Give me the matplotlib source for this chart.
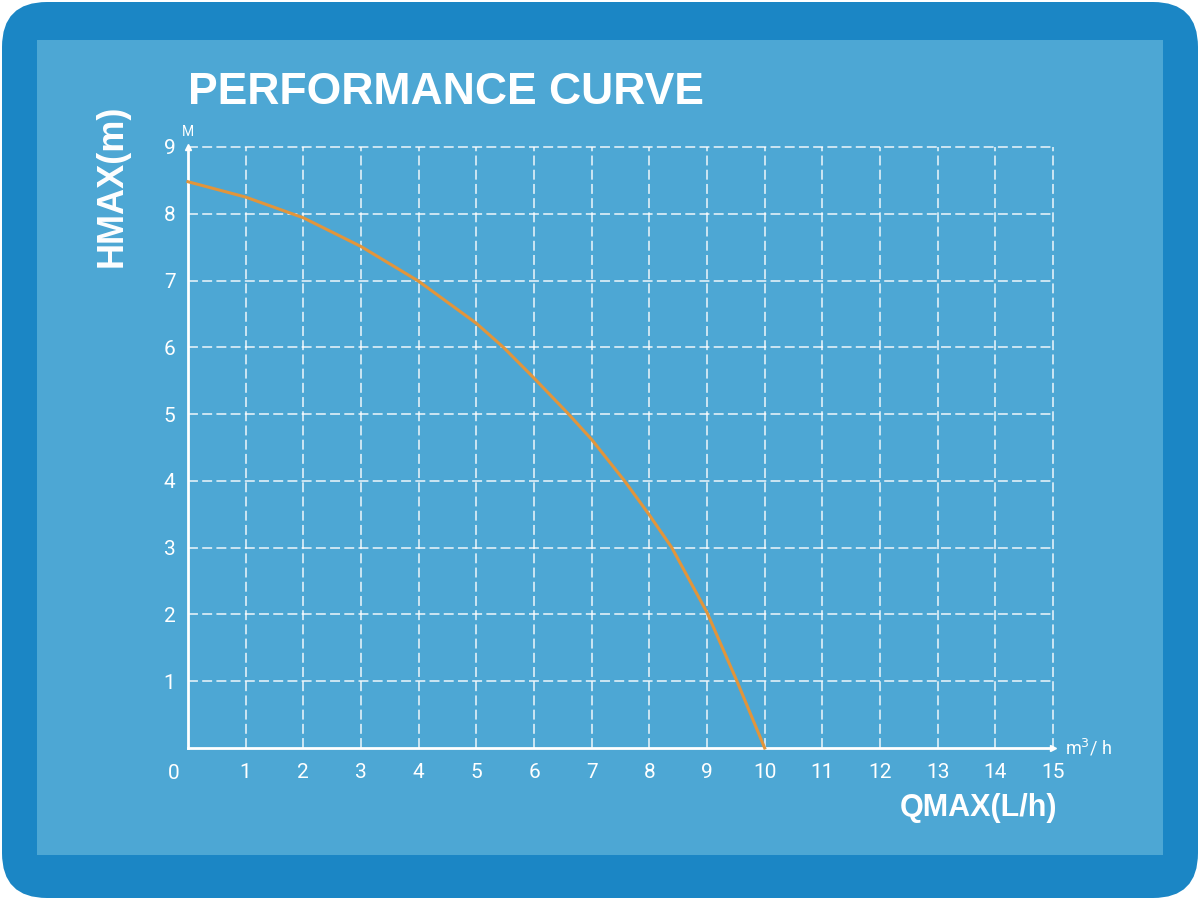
import matplotlib
matplotlib.use("Agg")
import matplotlib.pyplot as plt
from matplotlib.patches import FancyBboxPatch, Rectangle

# DATA
flow = [0, 1, 2, 3, 4, 5, 5.47, 6, 6.6, 7, 7.57, 8, 8.39, 9, 9.52, 10]
head = [8.48, 8.25, 7.94, 7.51, 6.99, 6.36, 6.0, 5.54, 5.0, 4.62, 4.0, 3.49, 3.0, 2.03, 1.0, 0.0]
x_ticks = list(range(1, 16))
y_ticks = list(range(1, 10))

FRAME = "#1b86c5"
PANEL = "#4da7d4"
CURVE = "#e2953b"
WHITE = "#ffffff"
tick_font = ["Roboto", "DejaVu Sans"]

fig = plt.figure(figsize=(12, 9), dpi=100)
fig.patch.set_facecolor("white")

# background in pixel units
bg = fig.add_axes([0, 0, 1, 1])
bg.set_xlim(0, 1200)
bg.set_ylim(900, 0)
bg.axis("off")
bg.add_patch(FancyBboxPatch((2, 2), 1196, 896, boxstyle="round,pad=0,rounding_size=45",
                            facecolor=FRAME, edgecolor="none"))
bg.add_patch(Rectangle((37, 40), 1126, 815, facecolor=PANEL, edgecolor="none"))

# chart
ax = fig.add_axes([188 / 1200, 1 - 748 / 900, 865 / 1200, 601 / 900])
ax.set_facecolor("none")
ax.set_xlim(0, 15)
ax.set_ylim(0, 9)
for s in ax.spines.values():
    s.set_visible(False)

ax.set_xticks(x_ticks)
ax.set_yticks(y_ticks)
ax.tick_params(length=0, colors=WHITE, labelsize=15)
ax.tick_params(axis="x", pad=11)
ax.tick_params(axis="y", pad=9)
for lab in ax.get_xticklabels() + ax.get_yticklabels():
    lab.set_family(tick_font)
ax.grid(True, color=WHITE, linestyle=(0, (6.5, 2.8)), linewidth=1.1, alpha=0.9)
for gl in ax.get_xgridlines() + ax.get_ygridlines():
    gl.set_clip_on(False)

ax.plot([0, 0], [0, 9], color=WHITE, lw=2, clip_on=False)
ax.plot([0, 15], [0, 0], color=WHITE, lw=2, clip_on=False)
ax.plot(0, 9, marker="^", color=WHITE, ms=5, clip_on=False)
ax.plot(15, 0, marker=">", color=WHITE, ms=5, clip_on=False)

ax.plot(flow, head, color=CURVE, lw=2.2, clip_on=False, zorder=3,
        solid_joinstyle="round")

ax.text(-0.25, -0.38, "0", color=WHITE, fontsize=15, family=tick_font,
        ha="center", va="center")
ax.text(0, 9.12, "M", color=WHITE, fontsize=10, family=tick_font, ha="center", va="bottom")
ax.text(15.2, 0.0, "m$^3$/ h", color=WHITE, fontsize=13, family=tick_font,
        ha="left", va="center")

fig.text(188 / 1200, 1 - 92 / 900, "PERFORMANCE CURVE", color=WHITE, fontsize=32,
         fontweight="bold", family="Liberation Sans", ha="left", va="center")
fig.text(112 / 1200, 1 - 186 / 900, "HMAX(m)", color=WHITE, fontsize=26,
         fontweight="bold", family="Liberation Sans", rotation=90, ha="center", va="center")
fig.text(1057 / 1200, 1 - 808 / 900, "QMAX(L/h)", color=WHITE, fontsize=22,
         fontweight="bold", family="Liberation Sans", ha="right", va="center")

plt.savefig("out.png", dpi=100)
